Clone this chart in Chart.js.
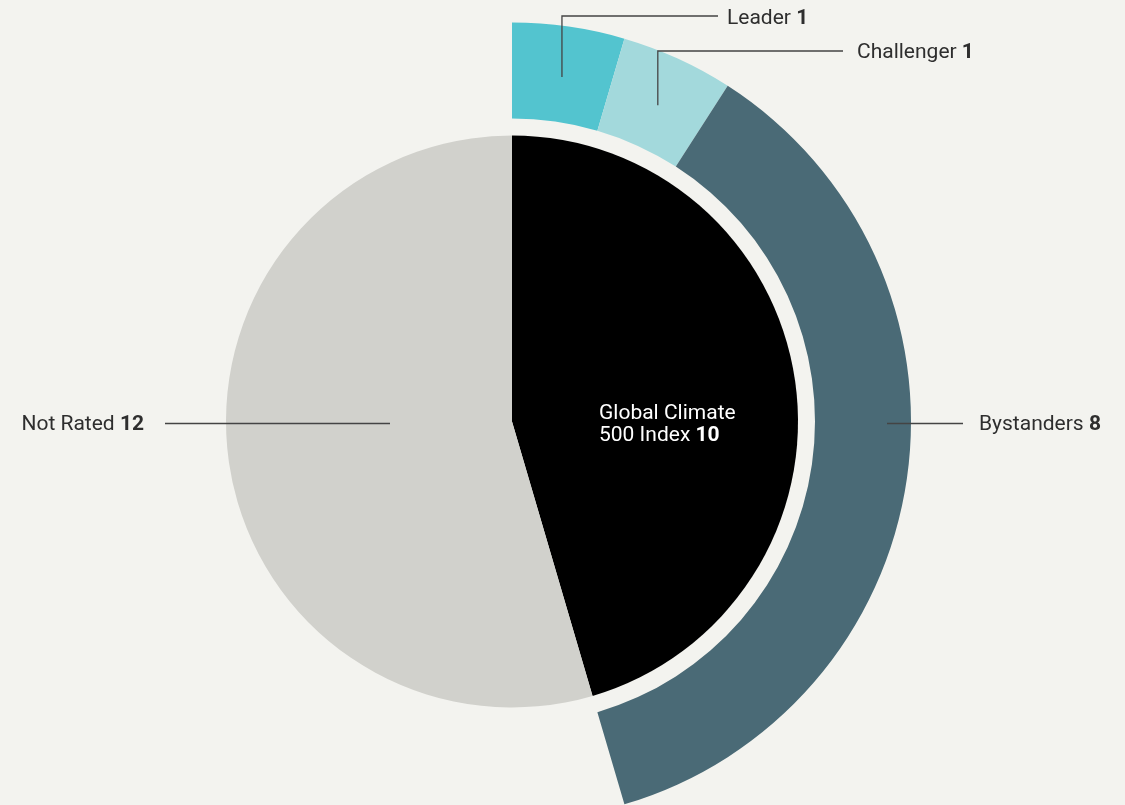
<!DOCTYPE html>
<html>
<head>
<meta charset="utf-8">
<script src="https://cdn.jsdelivr.net/npm/chart.js@4.4.1/dist/chart.umd.min.js"></script>
<style>
  html, body { margin: 0; padding: 0; background: #f3f3ef; width: 1125px; height: 805px; overflow: hidden; }
  #wrap { position: absolute; left: 0; top: 0; width: 1125px; height: 843px; }
</style>
</head>
<body>
<div id="wrap"><canvas id="c"></canvas></div>
<script>
// ---- data ----
const innerCategories = ['Global Climate 500 Index', 'Not Rated'];
const innerValues = [10, 12];
const outerCategories = ['Leader', 'Challenger', 'Bystanders'];
const outerValues = [1, 1, 8];

// ---- styles ----
const innerColors = ['#000000', '#d1d1cc'];
const outerColors = ['#53c4cf', '#a3d9dc', '#4a6a76'];
const FONT = 'Roboto, "Noto Sans", sans-serif';
const FONT_SIZE = 21;

// label layout
const labelLayout = [
  { ds: 0, idx: 0, name: 'Leader', value: outerValues[0], route: 'upRight', anchorR: 0.5, lineY: 16, lineEndX: 718, textX: 727, textDy: 3, color: '#2e2e2e' },
  { ds: 0, idx: 1, name: 'Challenger', value: outerValues[1], route: 'upRight', anchorR: 0.5, lineY: 51, lineEndX: 843, textX: 857, textDy: 2, color: '#2e2e2e' },
  { ds: 0, idx: 2, name: 'Bystanders', value: outerValues[2], route: 'right', anchorRadius: 375, lineEndX: 963, textX: 979, color: '#2e2e2e' },
  { ds: 2, idx: 1, name: 'Not Rated', value: innerValues[1], route: 'left', anchorRadius: 122, lineEndX: 165, textRight: 144, color: '#2e2e2e' }
];

function drawRich(ctx, parts, x, y, align) {
  let total = 0;
  parts.forEach(p => { ctx.font = (p.bold ? 'bold ' : '') + FONT_SIZE + 'px ' + FONT; p.w = ctx.measureText(p.t).width; total += p.w; });
  let cx = align === 'right' ? x - total : x;
  parts.forEach(p => {
    ctx.font = (p.bold ? 'bold ' : '') + FONT_SIZE + 'px ' + FONT;
    ctx.textAlign = 'left';
    ctx.fillText(p.t, cx, y);
    cx += p.w;
  });
}

const labelPlugin = {
  id: 'labels',
  afterDatasetsDraw(chart) {
    const ctx = chart.ctx;
    ctx.save();
    ctx.textBaseline = 'middle';
    ctx.strokeStyle = '#444444';
    ctx.lineWidth = 1.3;
    labelLayout.forEach(L => {
      const arc = chart.getDatasetMeta(L.ds).data[L.idx];
      const { x, y, startAngle, endAngle, innerRadius, outerRadius } = arc.getProps(['x', 'y', 'startAngle', 'endAngle', 'innerRadius', 'outerRadius'], true);
      ctx.fillStyle = L.color;
      if (L.route === 'upRight') {
        const mid = (startAngle + endAngle) / 2;
        const r = innerRadius + (outerRadius - innerRadius) * L.anchorR;
        const ax = x + r * Math.cos(mid);
        const ay = y + r * Math.sin(mid);
        ctx.beginPath();
        ctx.moveTo(ax, ay + 3);
        ctx.lineTo(ax, L.lineY);
        ctx.lineTo(L.lineEndX, L.lineY);
        ctx.stroke();
        drawRich(ctx, [{ t: L.name + ' ' }, { t: String(L.value), bold: true }], L.textX, L.lineY + L.textDy, 'left');
      } else if (L.route === 'right') {
        const ly = y + 2;
        ctx.beginPath();
        ctx.moveTo(x + L.anchorRadius, ly);
        ctx.lineTo(L.lineEndX, ly);
        ctx.stroke();
        drawRich(ctx, [{ t: L.name + ' ' }, { t: String(L.value), bold: true }], L.textX, ly + 1, 'left');
      } else if (L.route === 'left') {
        const ly = y + 2;
        ctx.beginPath();
        ctx.moveTo(x - L.anchorRadius, ly);
        ctx.lineTo(L.lineEndX, ly);
        ctx.stroke();
        drawRich(ctx, [{ t: L.name + ' ' }, { t: String(L.value), bold: true }], L.textRight, ly + 1, 'right');
      }
    });
    // center label in the black wedge
    const c = chart.getDatasetMeta(2).data[0];
    ctx.fillStyle = '#ffffff';
    drawRich(ctx, [{ t: 'Global Climate' }], c.x + 87, c.y - 8, 'left');
    drawRich(ctx, [{ t: '500 Index ' }, { t: String(innerValues[0]), bold: true }], c.x + 87, c.y + 14, 'left');
    ctx.restore();
  }
};

new Chart(document.getElementById('c'), {
  type: 'doughnut',
  data: {
    labels: [...outerCategories, innerCategories[1]],
    datasets: [
      { data: [...outerValues, innerValues[1]], backgroundColor: [...outerColors, 'rgba(0,0,0,0)'], borderWidth: 0, weight: 96, clip: false },
      { data: [innerValues[0] + innerValues[1]], backgroundColor: ['rgba(0,0,0,0)'], borderWidth: 0, weight: 17, clip: false },
      { data: innerValues, backgroundColor: innerColors, borderWidth: 0, weight: 286, clip: false }
    ]
  },
  options: {
    responsive: true,
    maintainAspectRatio: false,
    animation: false,
    cutout: 0,
    radius: 399,
    layout: { padding: { left: 0, right: 101, top: 0, bottom: 0 } },
    plugins: { legend: { display: false }, tooltip: { enabled: false } },
    events: []
  },
  plugins: [labelPlugin]
});
</script>
</body>
</html>
